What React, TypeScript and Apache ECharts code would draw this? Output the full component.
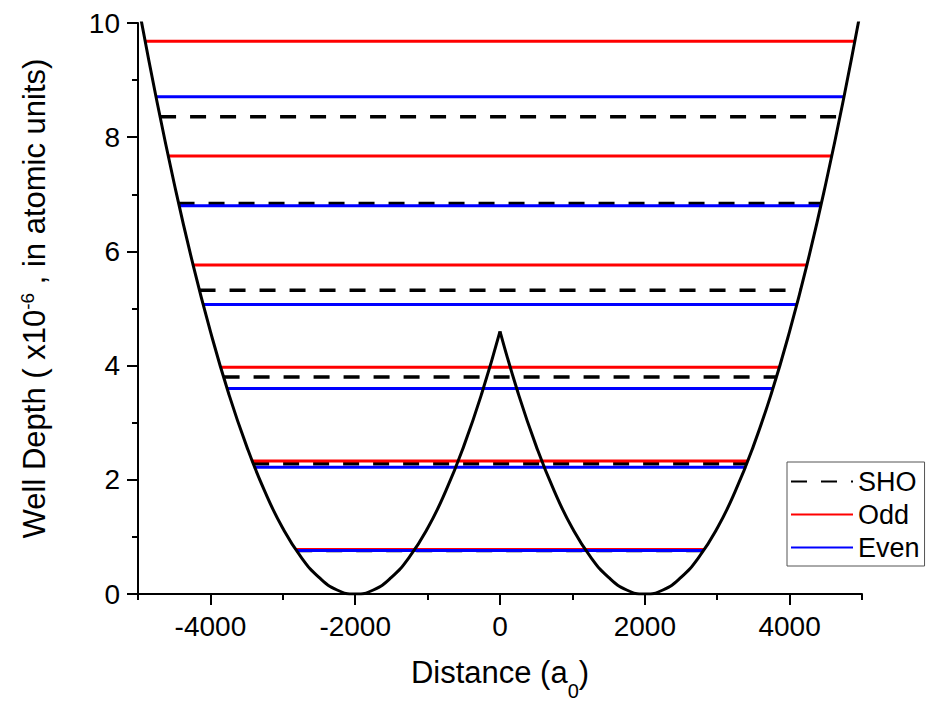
import React, { useEffect, useRef } from 'react';
import * as echarts from 'echarts';

// Double-well potential curve
const curveLeftX = [-5000, -4750, -4500, -4250, -4000, -3750, -3500, -3250, -3000, -2750, -2500, -2250, -2000, -1750, -1500, -1250, -1000, -750, -500, -250, 0];
const curveLeftY = [10.35, 8.70, 7.19, 5.82, 4.60, 3.52, 2.59, 1.80, 1.15, 0.65, 0.29, 0.07, 0, 0.07, 0.29, 0.65, 1.15, 1.80, 2.59, 3.52, 4.60];
const curveRightX = [0, 250, 500, 750, 1000, 1250, 1500, 1750, 2000, 2250, 2500, 2750, 3000, 3250, 3500, 3750, 4000, 4250, 4500, 4750, 5000];
const curveRightY = [4.60, 3.52, 2.59, 1.80, 1.15, 0.65, 0.29, 0.07, 0, 0.07, 0.29, 0.65, 1.15, 1.80, 2.59, 3.52, 4.60, 5.82, 7.19, 8.70, 10.35];

// Energy levels and their half widths (turning points)
const shoLevels = [0.76, 2.28, 3.80, 5.32, 6.84, 8.36];
const shoHalf = [2815, 3410, 3818, 4150, 4440, 4695];
const oddLevels = [0.78, 2.33, 3.97, 5.76, 7.67, 9.68];
const oddHalf = [2825, 3425, 3858, 4240, 4585, 4900];
const evenLevels = [0.76, 2.22, 3.60, 5.07, 6.80, 8.71];
const evenHalf = [2815, 3400, 3770, 4100, 4430, 4750];

const xMajorTicks = [-4000, -2000, 0, 2000, 4000];
const xMinorTicks = [-5000, -3000, -1000, 1000, 3000, 5000];
const legendNames = ['SHO', 'Odd', 'Even'];

const FONT = 'Liberation Sans, Arial, Helvetica, sans-serif';

export default function App() {
  const ref = useRef<HTMLDivElement>(null);
  useEffect(() => {
    if (!ref.current) return;
    const chart = echarts.init(ref.current, undefined, { renderer: 'svg' });

    const levelSeries = (name: string, levels: number[], half: number[], color: string, width: number, type: any) =>
      levels.map((e, i) => ({
        type: 'line',
        name,
        data: [[-half[i], e], [half[i], e]],
        symbol: 'none',
        silent: true,
        itemStyle: { color },
        lineStyle: { color, width, type },
      }));

    const axisLineStyle = { color: '#000', width: 2 };

    const option: any = {
      animation: false,
      backgroundColor: '#fff',
      grid: { left: 138, right: 64, top: 23, bottom: 109, containLabel: false, outerBoundsMode: 'none' },
      legend: {
        data: legendNames,
        orient: 'vertical',
        left: 787,
        top: 462,
        itemWidth: 62,
        itemHeight: 14,
        itemGap: 6,
        padding: [6, 5, 5, 3],
        borderColor: '#555',
        borderWidth: 1,
        backgroundColor: '#fff',
        selectedMode: false,
        itemStyle: { opacity: 0 },
        textStyle: { fontSize: 27, color: '#000', fontFamily: FONT },
      },
      xAxis: [
        {
          type: 'value',
          min: -5000,
          max: 5000,
          position: 'bottom',
          axisLine: { show: true, onZero: false, lineStyle: axisLineStyle },
          axisTick: { show: true, customValues: xMajorTicks, length: 11, lineStyle: axisLineStyle },
          axisLabel: {
            customValues: xMajorTicks,
            formatter: (v: number) => String(v),
            fontSize: 28,
            color: '#000',
            margin: 18,
            fontFamily: FONT,
          },
          splitLine: { show: false },
          name: 'Distance (a{sub|0})',
          nameLocation: 'middle',
          nameGap: 47,
          nameTextStyle: {
            fontSize: 31,
            color: '#000',
            fontFamily: FONT,
            lineHeight: 56,
            rich: {
              sub: { fontSize: 20, lineHeight: 20, verticalAlign: 'bottom', color: '#000', fontFamily: FONT },
            },
          },
        },
        {
          type: 'value',
          min: -5000,
          max: 5000,
          position: 'bottom',
          axisLine: { show: false, onZero: false },
          axisTick: { show: true, customValues: xMinorTicks, length: 6, lineStyle: axisLineStyle },
          axisLabel: { show: false },
          splitLine: { show: false },
        },
      ],
      yAxis: {
        type: 'value',
        min: 0,
        max: 10,
        interval: 2,
        axisLine: { show: true, onZero: false, lineStyle: axisLineStyle },
        axisTick: { show: true, length: 11, lineStyle: axisLineStyle },
        minorTick: { show: true, splitNumber: 2, length: 6, lineStyle: axisLineStyle },
        axisLabel: { fontSize: 28, color: '#000', margin: 18, fontFamily: FONT },
        splitLine: { show: false },
        name: 'Well Depth ( x10{sup|-6} , in atomic units)',
        nameLocation: 'middle',
        nameRotate: 90,
        nameGap: 88,
        nameTextStyle: {
          fontSize: 31,
          color: '#000',
          fontFamily: FONT,
          lineHeight: 32,
          padding: [0, 0, 0, 20],
          rich: {
            sup: { fontSize: 19, lineHeight: 19, verticalAlign: 'top', color: '#000', fontFamily: FONT },
          },
        },
      },
      series: [
        ...levelSeries('SHO', shoLevels, shoHalf, '#000000', 3.5, [16, 14]),
        ...levelSeries('Odd', oddLevels, oddHalf, '#ff0000', 3, 'solid'),
        ...levelSeries('Even', evenLevels, evenHalf, '#0000ff', 3, 'solid'),
        {
          type: 'line',
          data: curveLeftX.map((x, i) => [x, curveLeftY[i]]),
          smooth: true,
          symbol: 'none',
          silent: true,
          lineStyle: { color: '#000', width: 3 },
          itemStyle: { color: '#000' },
        },
        {
          type: 'line',
          data: curveRightX.map((x, i) => [x, curveRightY[i]]),
          smooth: true,
          symbol: 'none',
          silent: true,
          lineStyle: { color: '#000', width: 3 },
          itemStyle: { color: '#000' },
        },
      ],
    };
    chart.setOption(option);
    return () => chart.dispose();
  }, []);

  return <div ref={ref} style={{ position: 'fixed', left: 0, top: 0, width: 926, height: 703 }} />;
}
